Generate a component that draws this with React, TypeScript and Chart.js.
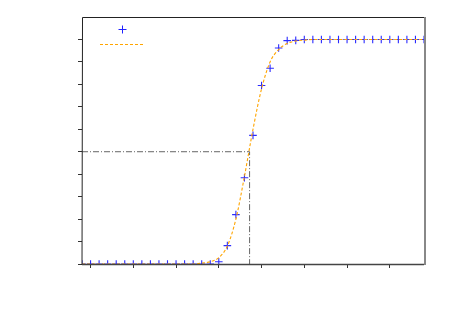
import React, { useEffect, useRef } from "react";
import { Chart, registerables } from "chart.js";

Chart.register(...registerables);

const xValues = [-1, 0, 1, 2, 3, 4, 5, 6, 7, 8, 9, 10, 11, 12, 13, 14, 15, 16, 17, 18, 19, 20, 21, 22, 23, 24, 25, 26, 27, 28, 29, 30, 31, 32, 33, 34, 35, 36, 37, 38, 39];
const measured = [0, 0, 0, 0, 0, 0, 0, 0, 0, 0, 0, 0, 0, 0, 0, 0, 0.01, 0.082, 0.22, 0.384, 0.573, 0.795, 0.872, 0.962, 0.995, 0.996, 1, 1, 1, 1, 1, 1, 1, 1, 1, 1, 1, 1, 1, 1, 1];
const fitted = [0, 0, 0, 0, 0, 0, 0, 0, 0, 0, 0, 0, 0, 0, 0.004, 0.01, 0.028, 0.08, 0.2, 0.39, 0.6, 0.78, 0.9, 0.955, 0.982, 0.993, 0.997, 1, 1, 1, 1, 1, 1, 1, 1, 1, 1, 1, 1, 1, 1];
const midX = 18.6;
const midY = 0.5;
const xTicks = [0, 5, 10, 15, 20, 25, 30, 35];
const yTicks = [0, 0.1, 0.2, 0.3, 0.4, 0.5, 0.6, 0.7, 0.8, 0.9, 1.0];
const X_MIN = -1;
const X_MAX = 39;
const Y_MIN = 0;
const Y_MAX = 1.1;

const framePlugin = {
  id: "frame",
  afterDraw(chart: any) {
    const { ctx, chartArea } = chart;
    const { left, top, right, bottom } = chartArea;
    ctx.save();
    ctx.lineWidth = 1;
    ctx.strokeStyle = "#222";
    ctx.beginPath();
    ctx.moveTo(left, bottom + 0.5);
    ctx.lineTo(left + 0.5, top + 0.5);
    ctx.lineTo(right, top + 0.5);
    ctx.stroke();
    ctx.strokeStyle = "#888";
    ctx.lineWidth = 2;
    ctx.beginPath();
    ctx.moveTo(right + 1, top);
    ctx.lineTo(right + 1, bottom + 1);
    ctx.stroke();
    ctx.strokeStyle = "#444";
    ctx.lineWidth = 1.5;
    ctx.beginPath();
    ctx.moveTo(left, bottom + 0.5);
    ctx.lineTo(right, bottom + 0.5);
    ctx.stroke();
    // legend
    ctx.strokeStyle = "#2222ff";
    ctx.lineWidth = 1;
    ctx.beginPath();
    ctx.moveTo(118.5, 29.5);
    ctx.lineTo(126.5, 29.5);
    ctx.moveTo(122.5, 25.5);
    ctx.lineTo(122.5, 33.5);
    ctx.stroke();
    ctx.strokeStyle = "#ffa500";
    ctx.setLineDash([3, 2]);
    ctx.beginPath();
    ctx.moveTo(100, 44.5);
    ctx.lineTo(144, 44.5);
    ctx.stroke();
    ctx.restore();
  },
};

export default function App() {
  const ref = useRef<HTMLCanvasElement>(null);
  useEffect(() => {
    document.body.style.margin = "0";
    const chart = new Chart(ref.current!, {
      type: "scatter",
      data: {
        datasets: [
          {
            type: "line",
            label: "",
            data: xValues.map((x, i) => ({ x, y: fitted[i] })),
            borderColor: "#ffa500",
            borderWidth: 1.1,
            borderDash: [3, 2],
            pointRadius: 0,
            cubicInterpolationMode: "monotone",
            fill: false,
            order: 0,
          },
          {
            type: "scatter",
            label: "",
            data: xValues.map((x, i) => ({ x, y: measured[i] })),
            pointStyle: "cross",
            pointRadius: 3.8,
            borderColor: "rgba(20,20,255,0.9)",
            borderWidth: 1.1,
            backgroundColor: "rgba(20,20,255,0.9)",
            order: 1,
          },
          {
            type: "line",
            label: "",
            data: [
              { x: X_MIN, y: midY },
              { x: midX, y: midY },
              { x: midX, y: Y_MIN },
            ],
            borderColor: "#666",
            borderWidth: 1,
            borderDash: [6, 2, 1, 2],
            pointRadius: 0,
            fill: false,
            tension: 0,
            order: 2,
          },
        ],
      },
      options: {
        animation: false,
        responsive: false,
        maintainAspectRatio: false,
        layout: { padding: { left: 0, top: 17, right: 26, bottom: 0 } },
        plugins: { legend: { display: false }, tooltip: { enabled: false } },
        scales: {
          x: {
            type: "linear",
            min: X_MIN,
            max: X_MAX,
            afterBuildTicks: (s: any) => {
              s.ticks = xTicks.map((v) => ({ value: v }));
            },
            afterFit: (s: any) => {
              s.height = 50;
            },
            ticks: { display: false },
            grid: { drawOnChartArea: false, drawTicks: true, tickLength: 4, color: "#333", lineWidth: 1 },
            border: { display: false },
          },
          y: {
            type: "linear",
            min: Y_MIN,
            max: Y_MAX,
            afterBuildTicks: (s: any) => {
              s.ticks = yTicks.map((v) => ({ value: v }));
            },
            afterFit: (s: any) => {
              s.width = 82;
            },
            ticks: { display: false },
            grid: { drawOnChartArea: false, drawTicks: true, tickLength: 4, color: "#333", lineWidth: 1 },
            border: { display: false },
          },
        },
      },
      plugins: [framePlugin],
    } as any);
    return () => chart.destroy();
  }, []);
  return (
    <div style={{ position: "fixed", left: 0, top: 0, width: 450, height: 314, background: "#fff" }}>
      <canvas ref={ref} width={450} height={314} style={{ width: 450, height: 314 }} />
    </div>
  );
}
